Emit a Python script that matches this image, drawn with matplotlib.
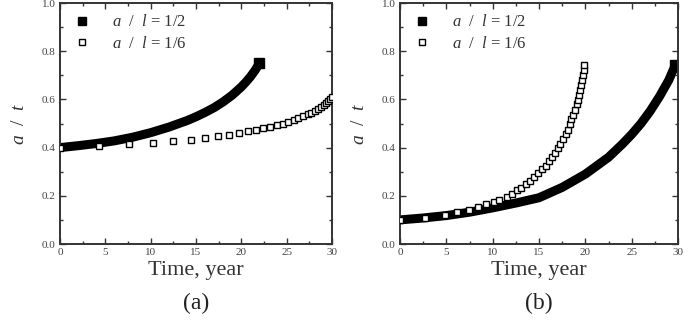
import matplotlib
matplotlib.use("Agg")
import matplotlib.pyplot as plt

plt.rcParams['font.family'] = ['Liberation Serif', 'DejaVu Serif']
plt.rcParams['mathtext.fontset'] = 'custom'
plt.rcParams['mathtext.it'] = 'Liberation Serif:italic'
plt.rcParams['mathtext.rm'] = 'Liberation Serif'

# (a) a/l = 1/2, filled squares (dense band)
a_half_t = [0, 2, 4, 6, 8, 10, 12, 14, 15, 16, 17, 18, 19, 20, 20.5, 21, 21.5, 22]
a_half_y = [0.400, 0.408, 0.417, 0.428, 0.443, 0.462, 0.485, 0.512, 0.528, 0.546,
            0.566, 0.590, 0.618, 0.652, 0.672, 0.694, 0.720, 0.750]
# (a) a/l = 1/6, open squares
a_sixth_t = [0.0, 4.35, 7.6, 10.3, 12.5, 14.4, 16.0, 17.4, 18.6, 19.7, 20.7, 21.6,
             22.4, 23.2, 23.9, 24.6, 25.2, 25.8, 26.3, 26.8, 27.3, 27.7, 28.1, 28.5,
             28.8, 29.1, 29.35, 29.6, 29.8, 30.0]
a_sixth_y = [0.400, 0.407, 0.413, 0.420, 0.427, 0.433, 0.440, 0.447, 0.453, 0.460,
             0.467, 0.473, 0.480, 0.487, 0.493, 0.500, 0.507, 0.515, 0.522, 0.530,
             0.538, 0.545, 0.553, 0.561, 0.569, 0.577, 0.585, 0.593, 0.601, 0.609]

# (b) a/l = 1/2, filled squares (dense band)
b_half_t = [0, 2.5, 5, 7.5, 10, 12.5, 15, 17.5, 20, 22.5, 24, 25, 26, 27, 28, 29, 29.7]
b_half_y = [0.100, 0.108, 0.118, 0.132, 0.150, 0.170, 0.192, 0.235, 0.290, 0.360,
            0.415, 0.455, 0.500, 0.552, 0.612, 0.680, 0.742]
# (b) a/l = 1/6, open squares
b_sixth_t = [0.0, 2.7, 4.8, 6.2, 7.44, 8.45, 9.28, 10.1, 10.7, 11.5, 12.05, 12.6, 13.1,
             13.6, 14.0, 14.5, 14.9, 15.3, 15.7, 16.05, 16.4, 16.7, 17.1, 17.3, 17.6,
             17.9, 18.1, 18.3, 18.5, 18.7, 18.9, 19.06, 19.2, 19.35, 19.45, 19.56,
             19.67, 19.74, 19.8, 19.8]
b_sixth_y = [0.100, 0.106, 0.121, 0.132, 0.142, 0.153, 0.165, 0.175, 0.183, 0.197,
             0.208, 0.222, 0.234, 0.249, 0.263, 0.277, 0.293, 0.310, 0.325, 0.344,
             0.362, 0.379, 0.397, 0.417, 0.435, 0.456, 0.475, 0.496, 0.517, 0.537,
             0.558, 0.579, 0.599, 0.620, 0.640, 0.661, 0.682, 0.702, 0.720, 0.741]

labels = [r"$a$  /  $l$ = 1/2", r"$a$  /  $l$ = 1/6"]
xticks = [0, 5, 10, 15, 20, 25, 30]
yticks = [0.0, 0.2, 0.4, 0.6, 0.8, 1.0]

fig = plt.figure(figsize=(6.94, 3.2), dpi=100)
rects = [[0.0865, 0.2375, 0.3919, 0.7531], [0.5764, 0.2375, 0.4006, 0.7531]]
panels = [(a_half_t, a_half_y, a_sixth_t, a_sixth_y, "(a)"),
          (b_half_t, b_half_y, b_sixth_t, b_sixth_y, "(b)")]

for rect, (ht, hy, st, sy, tag) in zip(rects, panels):
    ax = fig.add_axes(rect)
    # dense filled squares drawn as a thick band, square marker at the end
    ax.plot(ht, hy, '-', color='black', lw=6.5, solid_capstyle='butt',
            solid_joinstyle='round', zorder=2)
    ax.plot(ht[-1:], hy[-1:], 's', color='black', ms=6.5, zorder=2)
    ax.plot([], [], 's', color='black', ms=5.5, label=labels[0])
    ax.plot(st, sy, 's', mfc='white', mec='black', mew=1.0, ms=4.8,
            label=labels[1], zorder=4)
    ax.set_xlim(0, 30)
    ax.set_ylim(0, 1.0)
    ax.set_xticks(xticks)
    ax.set_xticks([2.5, 7.5, 12.5, 17.5, 22.5, 27.5], minor=True)
    ax.set_yticks(yticks)
    ax.set_yticks([0.1, 0.3, 0.5, 0.7, 0.9], minor=True)
    ax.set_yticklabels(["%.1f" % v for v in yticks])
    ax.tick_params(which='both', direction='in', top=True, right=True,
                   labelsize=8, labelcolor='#444444', color='#333333', pad=3)
    ax.tick_params(which='major', length=4, width=1)
    ax.tick_params(which='minor', length=2, width=1)
    for s in ax.spines.values():
        s.set_linewidth(1.4)
        s.set_color('#333333')
    ax.set_xlabel("Time, year", fontsize=16, color='#333333', labelpad=3)
    ax.set_ylabel(r"$a$  /  $t$", fontsize=14, color='#333333', labelpad=10)
    ax.legend(loc='upper left', bbox_to_anchor=(-0.005, 1.015), frameon=False,
              fontsize=12, handlelength=1.0, handletextpad=1.3,
              labelspacing=0.35, labelcolor='#333333')
    ax.text(0.5, -0.245, tag, transform=ax.transAxes, ha='center', va='center',
            fontsize=17, color='#222222')

fig.savefig("out.png", dpi=100)
